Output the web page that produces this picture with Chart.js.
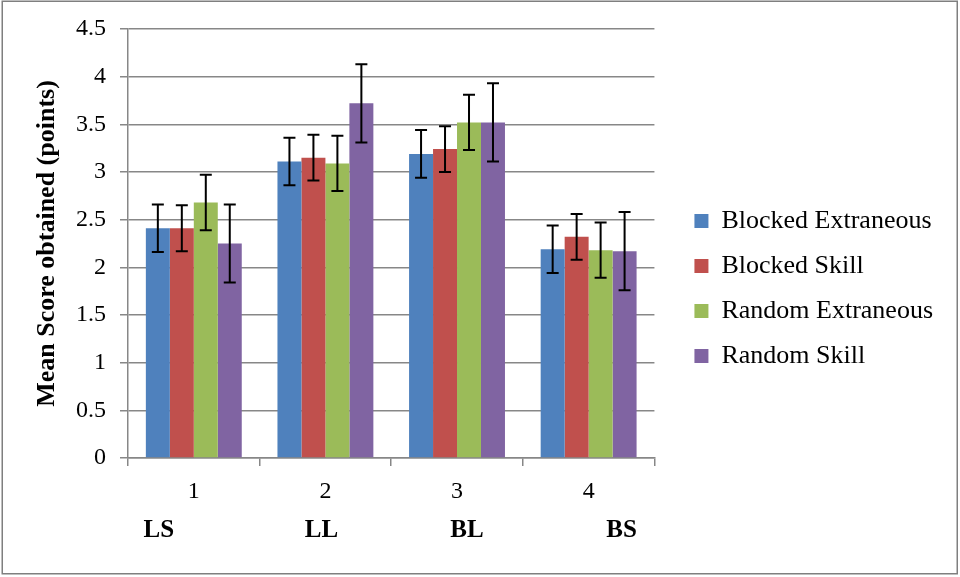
<!DOCTYPE html>
<html><head><meta charset="utf-8">
<script src="https://cdn.jsdelivr.net/npm/chart.js@4"></script>
<style>html,body{margin:0;padding:0;background:#fff;} canvas{display:block;}</style>
</head><body>
<canvas id="c" width="960" height="577"></canvas>
<script>
const categories = ['1', '2', '3', '4'];
const groupLabels = ['LS', 'LL', 'BL', 'BS'];
const seriesNames = ['Blocked Extraneous', 'Blocked Skill', 'Random Extraneous', 'Random Skill'];
const blockedExtraneous = [2.41, 3.11, 3.19, 2.19];
const blockedSkill = [2.41, 3.15, 3.24, 2.32];
const randomExtraneous = [2.68, 3.09, 3.52, 2.18];
const randomSkill = [2.25, 3.72, 3.52, 2.17];
const errBlockedExtraneous = [0.25, 0.25, 0.25, 0.25];
const errBlockedSkill = [0.24, 0.24, 0.24, 0.24];
const errRandomExtraneous = [0.29, 0.29, 0.29, 0.29];
const errRandomSkill = [0.41, 0.41, 0.41, 0.41];
const yTickValues = [0, 0.5, 1, 1.5, 2, 2.5, 3, 3.5, 4, 4.5];
const yAxisTitle = 'Mean Score obtained (points)';

const FONT = "'Liberation Serif', 'Times New Roman', serif";
const GRID = '#878787';
const groupLabelOffsets = [-35, -4, 10, 33];

const errorBars = {
  id: 'errorBars',
  afterDatasetsDraw(chart) {
    const ctx = chart.ctx, ys = chart.scales.y;
    ctx.save();
    ctx.strokeStyle = '#000';
    ctx.lineWidth = 2;
    chart.data.datasets.forEach((ds, i) => {
      const meta = chart.getDatasetMeta(i);
      meta.data.forEach((bar, j) => {
        const v = ds.data[j], e = ds.errors[j];
        const x = bar.x;
        const yt = ys.getPixelForValue(v + e), yb = ys.getPixelForValue(v - e);
        ctx.beginPath();
        ctx.moveTo(x, yt); ctx.lineTo(x, yb);
        ctx.moveTo(x - 6, yt); ctx.lineTo(x + 6, yt);
        ctx.moveTo(x - 6, yb); ctx.lineTo(x + 6, yb);
        ctx.stroke();
      });
    });
    ctx.restore();
  }
};

const extras = {
  id: 'extras',
  afterLayout(chart) {
    chart.legend.left += 21;
    chart.legend.right += 21;
  },
  afterDraw(chart) {
    const ctx = chart.ctx, xs = chart.scales.x;
    ctx.save();
    ctx.fillStyle = '#000';
    ctx.font = "bold 25px " + FONT;
    ctx.textAlign = 'center';
    ctx.textBaseline = 'middle';
    groupLabels.forEach((t, j) => {
      ctx.fillText(t, xs.getPixelForValue(j) + groupLabelOffsets[j], xs.top + 73);
    });
    ctx.strokeStyle = '#7f7f7f';
    ctx.lineWidth = 1.5;
    ctx.strokeRect(2.25, 1.25, 955, 572.5);
    ctx.restore();
  }
};

const mk = (label, data, errors, color) => ({
  label, data, errors, backgroundColor: color, borderWidth: 0,
  categoryPercentage: 0.7287, barPercentage: 1
});

new Chart(document.getElementById('c'), {
  type: 'bar',
  data: {
    labels: categories,
    datasets: [
      mk(seriesNames[0], blockedExtraneous, errBlockedExtraneous, '#4F81BD'),
      mk(seriesNames[1], blockedSkill, errBlockedSkill, '#C0504D'),
      mk(seriesNames[2], randomExtraneous, errRandomExtraneous, '#9BBB59'),
      mk(seriesNames[3], randomSkill, errRandomSkill, '#8064A2')
    ]
  },
  options: {
    responsive: false,
    animation: false,
    devicePixelRatio: 1,
    layout: { padding: { left: 0, top: 29, right: 38, bottom: 29 } },
    plugins: {
      tooltip: { enabled: false },
      legend: {
        position: 'right',
        maxWidth: 400,
        labels: {
          boxWidth: 14, boxHeight: 14, padding: 19, color: '#000',
          font: { family: FONT, size: 26 }
        }
      }
    },
    scales: {
      x: {
        grid: { display: true, drawOnChartArea: false, drawTicks: true, tickLength: 8, color: GRID, lineWidth: 1.5, offset: true },
        border: { color: GRID, width: 1.5 },
        ticks: { color: '#000', padding: 11, font: { family: FONT, size: 24 } },
        afterFit(s) { s.height = 90; }
      },
      y: {
        min: 0, max: 4.5,
        afterBuildTicks(s) { s.ticks = yTickValues.map(v => ({ value: v })); },
        grid: { color: GRID, lineWidth: 1.5, tickLength: 8 },
        border: { color: GRID, width: 1.5 },
        ticks: { color: '#000', padding: 14, font: { family: FONT, size: 24 }, callback: v => String(v) },
        title: { display: true, text: yAxisTitle, color: '#000', font: { family: FONT, size: 26, weight: 'bold' }, padding: { top: 32, bottom: 0 } },
        afterFit(s) { s.width = 128; }
      }
    }
  },
  plugins: [errorBars, extras]
});
</script>
</body></html>
